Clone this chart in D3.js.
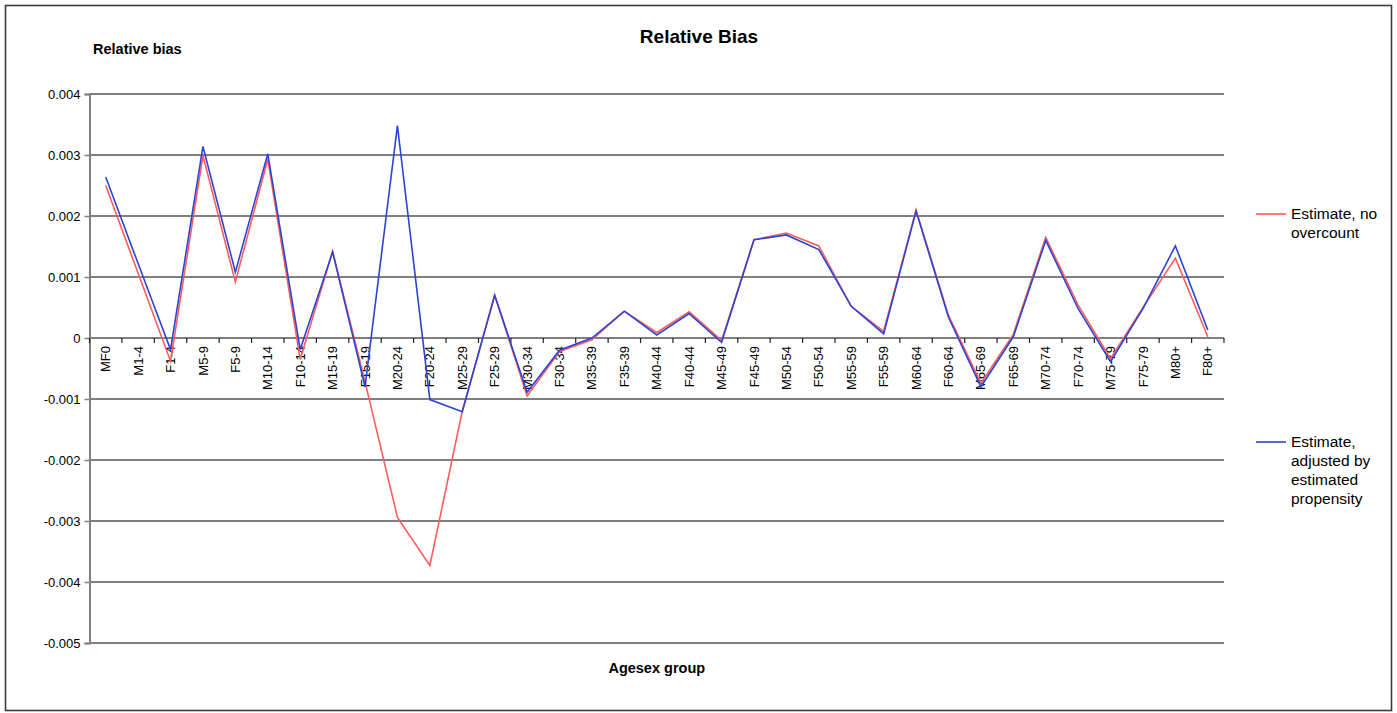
<!DOCTYPE html>
<html>
<head>
<meta charset="utf-8">
<script src="https://cdn.jsdelivr.net/npm/d3@7"></script>
<style>
  html, body { margin: 0; padding: 0; background: #fff; }
  svg { display: block; font-family: "Liberation Sans", Arial, sans-serif; }
</style>
</head>
<body>
<svg id="chart" width="1397" height="713"></svg>
<script>
// Age/sex groups along the horizontal axis
const categories = [
  "MF0", "M1-4", "F1-4", "M5-9", "F5-9", "M10-14", "F10-14", "M15-19", "F15-19",
  "M20-24", "F20-24", "M25-29", "F25-29", "M30-34", "F30-34", "M35-39", "F35-39",
  "M40-44", "F40-44", "M45-49", "F45-49", "M50-54", "F50-54", "M55-59", "F55-59",
  "M60-64", "F60-64", "M65-69", "F65-69", "M70-74", "F70-74", "M75-79", "F75-79",
  "M80+", "F80+"
];

// Relative bias of the estimate without overcount
const noOvercount = [
  0.00250, 0.00106, -0.00038, 0.00299, 0.00092, 0.00293, -0.00035, 0.00142, -0.00072,
  -0.00294, -0.00373, -0.00120, 0.00070, -0.00095, -0.00022, -0.00003, 0.00044,
  0.00009, 0.00043, -0.00004, 0.00161, 0.00172, 0.00151, 0.00052, 0.00011,
  0.00210, 0.00037, -0.00074, 0.00006, 0.00165, 0.00054, -0.00034, 0.00050,
  0.00131, 0.00002
];

// Relative bias of the estimate adjusted by estimated propensity
const adjusted = [
  0.00264, 0.00122, -0.00019, 0.00314, 0.00108, 0.00302, -0.00019, 0.00141, -0.00080,
  0.00348, -0.00101, -0.00121, 0.00070, -0.00089, -0.00020, 0.00000, 0.00044,
  0.00005, 0.00040, -0.00007, 0.00161, 0.00169, 0.00145, 0.00052, 0.00007,
  0.00208, 0.00034, -0.00080, 0.00002, 0.00160, 0.00048, -0.00039, 0.00048,
  0.00151, 0.00013
];

// Value axis ticks and their labels
const yTicks = [0.004, 0.003, 0.002, 0.001, 0, -0.001, -0.002, -0.003, -0.004, -0.005];
const yTickLabels = ["0.004", "0.003", "0.002", "0.001", "0", "-0.001", "-0.002", "-0.003", "-0.004", "-0.005"];

const seriesNames = [["Estimate, no", "overcount"], ["Estimate,", "adjusted by", "estimated", "propensity"]];
const seriesColors = ["#ff5c5c", "#2b44d4"];

const svg = d3.select("#chart");

// plot frame
const plot = { left: 89.5, right: 1224, top: 94, bottom: 643 };

const x = d3.scaleBand().domain(categories).range([plot.left, plot.right]).padding(0);
const y = d3.scaleLinear().domain([-0.005, 0.004]).range([plot.bottom, plot.top]);
const cx = c => x(c) + x.bandwidth() / 2;

// outer chart border
svg.append("rect")
  .attr("x", 5.5).attr("y", 5.5)
  .attr("width", 1386).attr("height", 705)
  .attr("fill", "#fff")
  .attr("stroke", "#3c3c3c")
  .attr("stroke-width", 1.6);

// horizontal gridlines, alternating weight
svg.append("g").selectAll("line")
  .data(yTicks)
  .join("line")
  .attr("x1", plot.left).attr("x2", plot.right)
  .attr("y1", d => y(d)).attr("y2", d => y(d))
  .attr("stroke", (d, i) => i % 2 === 0 ? "#808080" : "#000")
  .attr("stroke-width", (d, i) => i % 2 === 0 ? 2 : 1.1);

// value axis
const yAxis = svg.append("g")
  .attr("transform", `translate(${plot.left},0)`)
  .call(d3.axisLeft(y)
    .tickValues(yTicks)
    .tickFormat((d, i) => yTickLabels[i])
    .tickSize(5)
    .tickPadding(4));
yAxis.select(".domain").attr("stroke", "#808080").attr("stroke-width", 2);
yAxis.selectAll(".tick line").attr("stroke", "#808080").attr("stroke-width", 1.5);
yAxis.selectAll(".tick text")
  .attr("fill", "#000")
  .style("font-size", "13px")
  .style("font-family", "'Liberation Sans', Arial, sans-serif");

// category tick marks on the zero line (at group boundaries)
const boundaries = categories.map(c => x(c)).concat([plot.right]);
svg.append("g").selectAll("line")
  .data(boundaries)
  .join("line")
  .attr("x1", d => d).attr("x2", d => d)
  .attr("y1", y(0)).attr("y2", y(0) + 5)
  .attr("stroke", "#222")
  .attr("stroke-width", 1.2);

// category labels, rotated
const xAxis = svg.append("g")
  .attr("transform", `translate(0,${y(0)})`)
  .call(d3.axisBottom(x).tickSize(0));
xAxis.select(".domain").remove();
xAxis.selectAll(".tick text")
  .attr("transform", "rotate(-90)")
  .attr("text-anchor", "end")
  .attr("x", -8)
  .attr("y", 0)
  .attr("dy", "0.35em")
  .attr("fill", "#000")
  .style("font-size", "13px")
  .style("font-family", "'Liberation Sans', Arial, sans-serif");

// series lines
const line = d3.line()
  .x((d, i) => cx(categories[i]))
  .y(d => y(d));

[noOvercount, adjusted].forEach((series, k) => {
  svg.append("path")
    .datum(series)
    .attr("fill", "none")
    .attr("stroke", seriesColors[k])
    .attr("stroke-width", 1.6)
    .attr("stroke-linejoin", "miter")
    .attr("d", line);
});

// titles
svg.append("text")
  .attr("x", 699).attr("y", 43)
  .attr("text-anchor", "middle")
  .style("font-size", "19px").style("font-weight", "bold")
  .text("Relative Bias");

svg.append("text")
  .attr("x", 93).attr("y", 54)
  .style("font-size", "14.5px").style("font-weight", "bold")
  .text("Relative bias");

svg.append("text")
  .attr("x", (plot.left + plot.right) / 2).attr("y", 673)
  .attr("text-anchor", "middle")
  .style("font-size", "14.5px").style("font-weight", "bold")
  .text("Agesex group");

// legend
const legendRows = [214, 442];
const legend = svg.append("g");
seriesNames.forEach((lines, k) => {
  const g = legend.append("g").attr("transform", `translate(0,${legendRows[k]})`);
  g.append("line")
    .attr("x1", 1256).attr("x2", 1286)
    .attr("y1", 0).attr("y2", 0)
    .attr("stroke", seriesColors[k])
    .attr("stroke-width", 1.6);
  g.selectAll("text")
    .data(lines)
    .join("text")
    .attr("x", 1291)
    .attr("y", (d, i) => i * 19)
    .attr("dy", "0.35em")
    .style("font-size", "15.5px")
    .text(d => d);
});
</script>
</body>
</html>
